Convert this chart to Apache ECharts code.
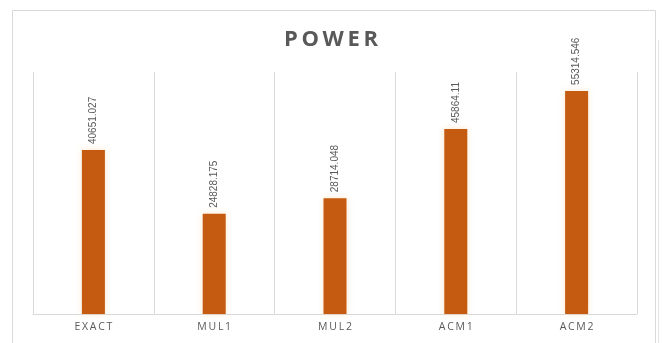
<!DOCTYPE html>
<html>
<head>
<meta charset="utf-8">
<script src="https://cdn.jsdelivr.net/npm/echarts@6/dist/echarts.min.js"></script>
<style>
  html, body { margin: 0; padding: 0; background: #ffffff; }
  #chart { width: 662px; height: 343px; }
</style>
</head>
<body>
<div id="chart"></div>
<script>
// Power per design
const categories = ['EXACT', 'MUL1', 'MUL2', 'ACM1', 'ACM2'];
const powerValues = [40651.027, 24828.175, 28714.048, 45864.11, 55314.546];
const valueLabels = ['40651.027', '24828.175', '28714.048', '45864.11', '55314.546'];

// spread letters a little, like a tracked caption
const spaced = s => s.split('').join('\u2009');

const chart = echarts.init(document.getElementById('chart'), null, { renderer: 'canvas' });

chart.setOption({
  backgroundColor: '#ffffff',
  animation: false,
  title: {
    text: spaced('POWER'),
    left: 'center',
    top: 24,
    textStyle: {
      fontFamily: 'Open Sans',
      fontWeight: 'bold',
      fontSize: 22,
      color: '#595959'
    }
  },
  graphic: [
    {
      type: 'rect',
      shape: { x: 12.5, y: 10.5, width: 643, height: 345 },
      style: { fill: 'none', stroke: '#d9d9d9', lineWidth: 1 },
      silent: true
    },
    {
      type: 'line',
      shape: { x1: 658.5, y1: 40, x2: 658.5, y2: 343 },
      style: { stroke: '#e4e4e4', lineWidth: 1 },
      silent: true
    }
  ],
  grid: { left: 33, right: 25, top: 72, bottom: 29, containLabel: false },
  xAxis: {
    type: 'category',
    data: categories,
    boundaryGap: true,
    axisLine: { show: true, lineStyle: { color: '#d9d9d9', width: 1 } },
    axisTick: { show: false },
    splitLine: { show: true, lineStyle: { color: '#d9d9d9', width: 1 } },
    axisLabel: {
      color: '#595959',
      fontFamily: 'Open Sans',
      fontSize: 10.5,
      margin: 8,
      formatter: v => spaced(v)
    }
  },
  yAxis: {
    type: 'value',
    min: 0,
    max: 60000,
    interval: 10000,
    show: false,
    splitLine: { show: false }
  },
  series: [{
    type: 'bar',
    data: powerValues,
    barWidth: 23,
    itemStyle: {
      color: '#c55a11',
      shadowColor: 'rgba(255, 200, 130, 0.45)',
      shadowBlur: 6
    },
    label: {
      show: true,
      position: 'top',
      rotate: 90,
      align: 'left',
      verticalAlign: 'middle',
      distance: 6,
      color: '#595959',
      fontFamily: 'Liberation Sans Narrow, Liberation Sans',
      fontSize: 10,
      formatter: p => valueLabels[p.dataIndex]
    }
  }]
});
</script>
</body>
</html>
